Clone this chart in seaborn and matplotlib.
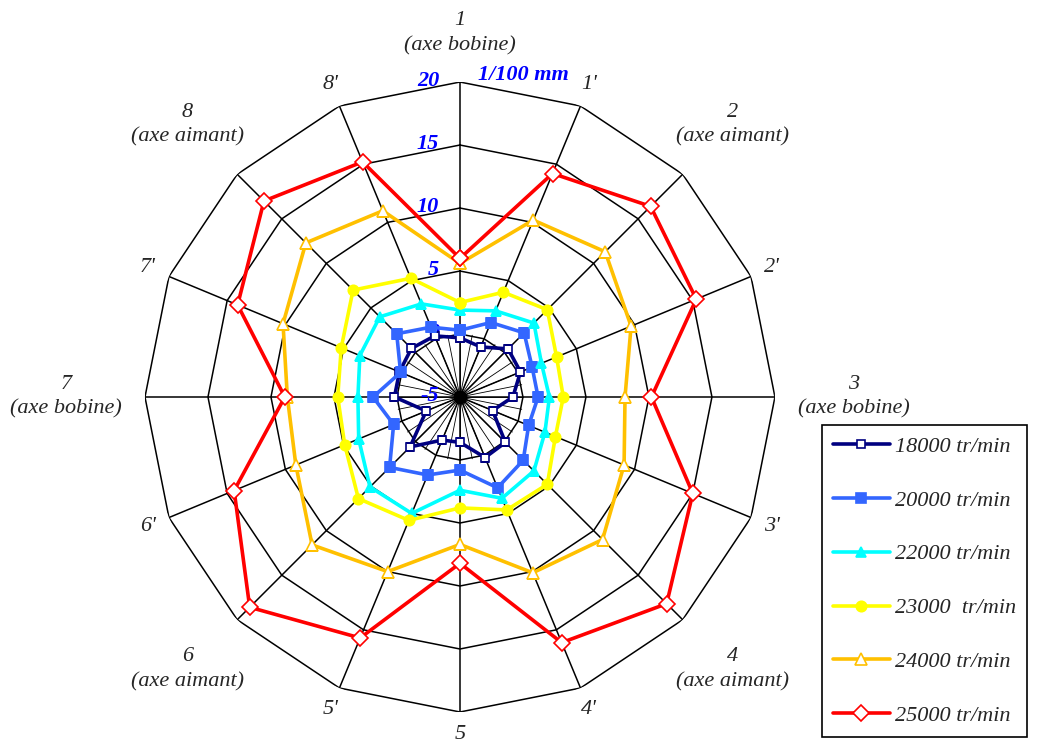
import numpy as np
import matplotlib
matplotlib.use('Agg')
import matplotlib.pyplot as plt
import seaborn as sns

# ------------------ DATA ------------------
axes_labels = ["1", "1'", "2", "2'", "3", "3'", "4", "4'",
               "5", "5'", "6", "6'", "7", "7'", "8", "8'"]
axes_sub = ["(axe bobine)", "", "(axe aimant)", "", "(axe bobine)", "", "(axe aimant)", "",
            "", "", "(axe aimant)", "", "(axe bobine)", "", "(axe aimant)", ""]

speeds = ["18000 tr/min", "20000 tr/min", "22000 tr/min",
          "23000  tr/min", "24000 tr/min", "25000 tr/min"]
v18000 = [-0.3, -0.7, 0.4, 0.2, -0.8, -2.2, 0.1, 0.2, -1.4, -1.3, 0.6, -2.1, 0.2, 0.2, 0.45, 0.25]
v20000 = [0.3, 1.4, 2.2, 1.2, 1.2, 0.9, 2.1, 2.8, 0.8, 1.7, 2.9, 0.7, 1.9, 0.1, 2.1, 1.0]
v22000 = [1.9, 2.4, 3.3, 2.0, 2.1, 2.3, 3.3, 3.7, 2.4, 5.0, 5.1, 3.7, 3.1, 3.6, 4.0, 3.0]
v23000 = [2.5, 4.0, 4.8, 3.3, 3.2, 3.2, 4.8, 4.7, 3.8, 5.6, 6.4, 4.9, 4.7, 5.2, 7.0, 5.2]
v24000 = [5.6, 10.2, 11.3, 9.7, 8.1, 9.1, 11.0, 10.1, 6.7, 10.0, 11.6, 9.1, 8.7, 10.2, 12.3, 11.0]
v25000 = [6.0, 14.2, 16.4, 15.3, 10.2, 15.0, 18.2, 16.1, 8.2, 15.7, 18.6, 14.4, 8.9, 14.1, 17.0, 15.2]

ring_levels = [-5, 0, 5, 10, 15, 20]
unit_label = "1/100 mm"

# ------------------ STYLE ------------------
sns.set_style("white")
plt.rcParams['font.family'] = ['Liberation Serif', 'DejaVu Serif']

colors = ["#000080", "#3366FF", "#00FFFF", "#FFFF00", "#FFC000", "#FF0000"]
markers = ["s", "s", "^", "o", "^", "D"]
faces = ["white", "#3366FF", "#00FFFF", "#FFFF00", "white", "white"]
msizes = [5.5, 6.5, 7, 7.5, 8.5, 8]
series = [v18000, v20000, v22000, v23000, v24000, v25000]

n = len(axes_labels)
theta = np.linspace(0, 2 * np.pi, n, endpoint=False)
theta_c = np.append(theta, 2 * np.pi)

fig = plt.figure(figsize=(10.37, 7.49), dpi=100)
ax = fig.add_axes([0.1398, 0.0494, 0.6075, 0.8411], projection='polar')
ax.set_theta_zero_location('N')
ax.set_theta_direction(-1)
ax.set_ylim(-5, 20)
ax.grid(False)
ax.set_xticks([])
ax.set_yticks([])
ax.spines['polar'].set_visible(False)

# polygon grid
for lv in ring_levels[1:]:
    ax.plot(theta_c, [lv] * (n + 1), color='black', lw=1.1, zorder=1)
for t in theta:
    ax.plot([t, t], [-5, 20], color='black', lw=1.1, zorder=1)
# thin inner spokes
for t in np.linspace(0, 2 * np.pi, 2 * n, endpoint=False):
    ax.plot([t, t], [-5, 0], color='black', lw=0.6, zorder=1)

# axis value labels
for lv in ring_levels:
    ax.annotate(str(lv), xy=(0, lv), xytext=(-15, 1), textcoords='offset points',
                ha='right', va='center', color='#0000FF', fontsize=16,
                fontweight='bold', fontstyle='italic', zorder=2)
ax.annotate(unit_label, xy=(0, 20), xytext=(13, 5), textcoords='offset points',
            ha='left', va='center', color='#0000FF', fontsize=16,
            fontweight='bold', fontstyle='italic', zorder=2)

# series
for vals, name, c, m, fc, ms in zip(series, speeds, colors, markers, faces, msizes):
    sns.lineplot(x=theta_c, y=vals + vals[:1], ax=ax, sort=False, color=c,
                 linewidth=2.6, marker=m, markersize=ms, markerfacecolor=fc,
                 markeredgecolor=c, markeredgewidth=1.2, label=name, zorder=3)

ax.plot(0, -5, 'o', color='black', ms=9, zorder=4)

# category labels
for t, lab, sub in zip(theta, axes_labels, axes_sub):
    if sub:
        r = (364 + 30 * abs(np.sin(t))) / 12.6 - 5
        txt = lab + "\n" + sub
    else:
        r = 338 / 12.6 - 5
        txt = lab
    ax.text(t, r, txt, ha='center', va='center', fontsize=16,
            fontstyle='italic', linespacing=1.4, clip_on=False)

handles, labels = ax.get_legend_handles_labels()
ax.legend_.remove()
leg = fig.legend(handles, labels, loc='upper left', bbox_to_anchor=(0.7927, 0.4326),
                 frameon=True, fancybox=False, framealpha=1, edgecolor='black',
                 prop={'family': 'Liberation Serif', 'style': 'italic', 'size': 16},
                 handlelength=2.55, labelspacing=1.5, borderpad=0.5,
                 handletextpad=0.22, borderaxespad=0)
leg.get_frame().set_linewidth(1.2)

fig.savefig("out.png", dpi=100)
